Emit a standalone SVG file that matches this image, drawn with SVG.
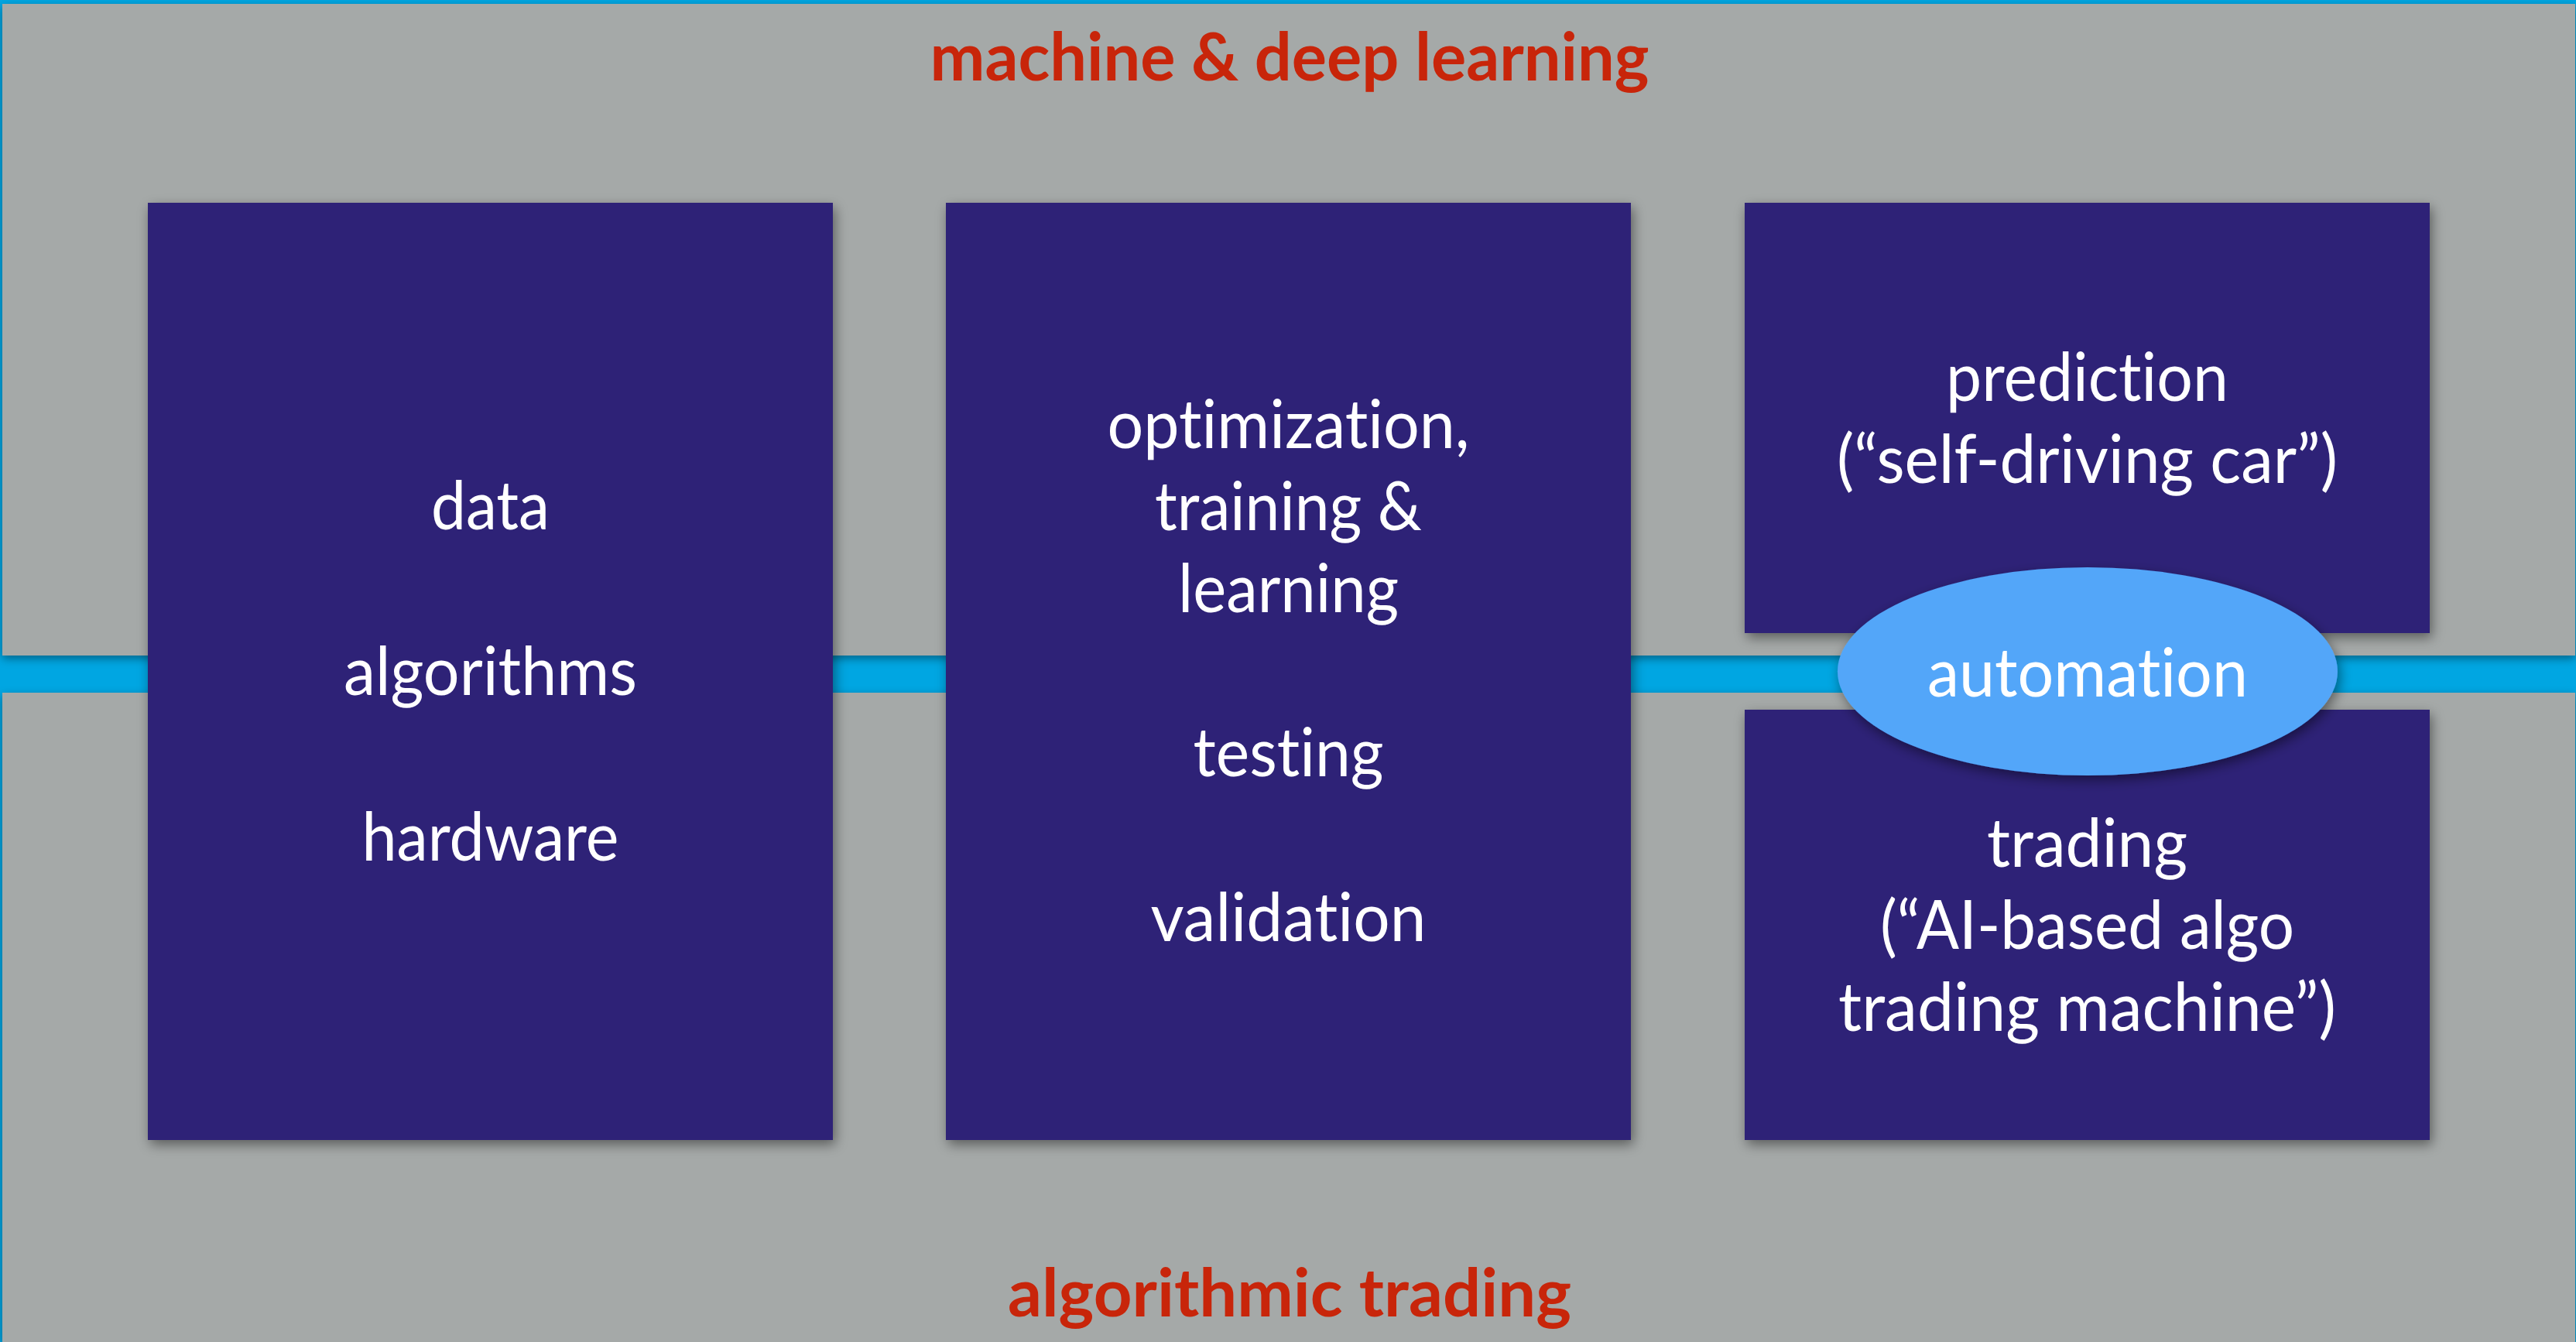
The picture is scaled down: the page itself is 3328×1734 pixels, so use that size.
<svg xmlns="http://www.w3.org/2000/svg" width="3328" height="1734" viewBox="0 0 3328 1734">
  <defs>
    <filter id="sh" x="-10%" y="-10%" width="125%" height="130%">
      <feDropShadow dx="3" dy="6" stdDeviation="8" flood-color="#000" flood-opacity="0.45"/>
    </filter>
    <filter id="shp" x="-5%" y="-5%" width="110%" height="115%">
      <feDropShadow dx="0" dy="4" stdDeviation="6" flood-color="#000" flood-opacity="0.4"/>
    </filter>
  </defs>
  <style>
    .bg { fill: #00A6E2; }
    .panel { fill: #A5A9A8; }
    .box { fill: #2D2277; }
    .oval { fill: #52A6F9; }
    .t { font-family: Lato, "Open Sans", "Liberation Sans", sans-serif; font-size: 87px; fill: #FFFFFF; text-anchor: middle; font-variant-ligatures: none; font-feature-settings: "liga" 0, "clig" 0; }
    .h { font-family: Lato, "Open Sans", "Liberation Sans", sans-serif; font-size: 87px; font-weight: 700; fill: #C8250A; text-anchor: middle; font-variant-ligatures: none; font-feature-settings: "liga" 0, "clig" 0; }
  </style>
  <rect class="bg" x="0" y="0" width="3328" height="1734"/>
  <g id="panels">
    <rect class="panel" x="3" y="895" width="3324" height="839" filter="url(#shp)"/>
    <rect class="panel" x="3" y="5" width="3324" height="842" filter="url(#shp)"/>
  </g>
  <g id="headings">
    <text class="h" x="1666" y="104" textLength="929" lengthAdjust="spacingAndGlyphs">machine &amp; deep learning</text>
    <text class="h" x="1666" y="1701" textLength="728" lengthAdjust="spacingAndGlyphs">algorithmic trading</text>
  </g>
  <g id="connectors"></g>
  <g id="box-foundations">
    <rect class="box" x="191" y="262" width="885" height="1211" filter="url(#sh)"/>
    <text class="t" x="633.5" y="684" textLength="153" lengthAdjust="spacingAndGlyphs">data</text>
    <text class="t" x="633.5" y="898" textLength="379" lengthAdjust="spacingAndGlyphs">algorithms</text>
    <text class="t" x="633.5" y="1112" textLength="332" lengthAdjust="spacingAndGlyphs">hardware</text>
  </g>
  <g id="box-process">
    <rect class="box" x="1222" y="262" width="885" height="1211" filter="url(#sh)"/>
    <text class="t" x="1664.5" y="579" textLength="468" lengthAdjust="spacingAndGlyphs">optimization,</text>
    <text class="t" x="1664.5" y="685" textLength="345" lengthAdjust="spacingAndGlyphs">training &amp;</text>
    <text class="t" x="1664.5" y="791" textLength="285" lengthAdjust="spacingAndGlyphs">learning</text>
    <text class="t" x="1664.5" y="1003" textLength="246" lengthAdjust="spacingAndGlyphs">testing</text>
    <text class="t" x="1664.5" y="1216" textLength="356" lengthAdjust="spacingAndGlyphs">validation</text>
  </g>
  <g id="box-prediction">
    <rect class="box" x="2254" y="262" width="885" height="556" filter="url(#sh)"/>
    <text class="t" x="2696.5" y="518" textLength="365" lengthAdjust="spacingAndGlyphs">prediction</text>
    <text class="t" x="2696.5" y="624" textLength="647" lengthAdjust="spacingAndGlyphs">(“self-driving car”)</text>
  </g>
  <g id="box-trading">
    <rect class="box" x="2254" y="917" width="885" height="556" filter="url(#sh)"/>
    <text class="t" x="2696.5" y="1120" textLength="259" lengthAdjust="spacingAndGlyphs">trading</text>
    <text class="t" x="2696.5" y="1226" textLength="535" lengthAdjust="spacingAndGlyphs">(“AI-based algo</text>
    <text class="t" x="2696.5" y="1332" textLength="643" lengthAdjust="spacingAndGlyphs">trading machine”)</text>
  </g>
  <g id="automation">
    <ellipse class="oval" cx="2697" cy="867.5" rx="323" ry="134.5" filter="url(#sh)"/>
    <text class="t" x="2697" y="900" textLength="414" lengthAdjust="spacingAndGlyphs">automation</text>
  </g>
</svg>
